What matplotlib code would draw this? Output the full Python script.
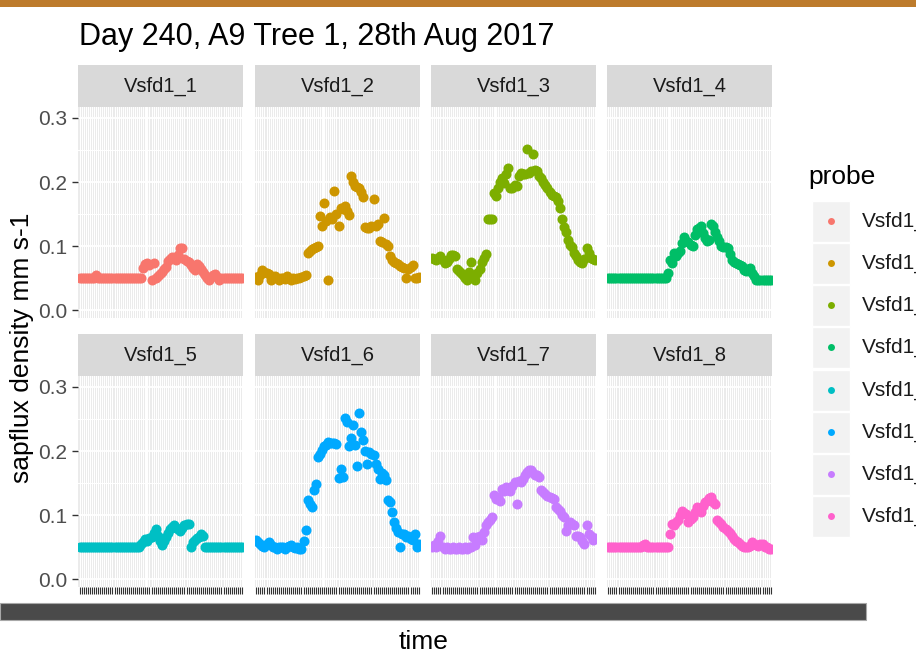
import matplotlib
matplotlib.use("Agg")
import matplotlib.pyplot as plt
from matplotlib.patches import Rectangle
from matplotlib.ticker import FixedLocator

plt.rcParams['font.family'] = ['Liberation Sans', 'DejaVu Sans']

title = "Day 240, A9 Tree 1, 28th Aug 2017"
probes = ["Vsfd1_1", "Vsfd1_2", "Vsfd1_3", "Vsfd1_4",
          "Vsfd1_5", "Vsfd1_6", "Vsfd1_7", "Vsfd1_8"]
colors = ["#F8766D", "#CD9600", "#7CAE00", "#00BE67",
          "#00BFC4", "#00A9FF", "#C77CFF", "#FF61CC"]
y_ticks = [0.0, 0.1, 0.2, 0.3]
y_tick_labels = ["0.0", "0.1", "0.2", "0.3"]

vsfd1_1 = [0.05]*8 + [0.055] + [0.05]*22 + [
    0.066, 0.072, 0.074, 0.070, 0.048, 0.074, 0.050, 0.053, 0.057, 0.060,
    0.064, 0.068, 0.077, 0.080, 0.083, 0.082, 0.078, 0.086, 0.097, 0.097,
    0.080, 0.077, 0.075, 0.070, 0.066, 0.063, 0.072, 0.069, 0.065, 0.060,
    0.055, 0.050, 0.048, 0.052, 0.055, 0.057, 0.052, 0.048] + [0.05]*11
vsfd1_2 = [
    0.052, 0.048, 0.055, 0.063, 0.060, 0.058, 0.056, 0.048, 0.052, 0.053,
    0.050, 0.048, 0.050, 0.051, 0.049, 0.053, 0.050, 0.048, 0.050, 0.049,
    0.050, 0.051, 0.052, 0.053, 0.055, 0.089, 0.093, 0.095, 0.097, 0.098,
    0.100, 0.147, 0.131, 0.167, 0.140, 0.048, 0.145, 0.142, 0.186, 0.150,
    0.131, 0.160, 0.158, 0.162, 0.155, 0.149, 0.209, 0.200, 0.194, 0.193,
    0.191, 0.185, 0.177, 0.130, 0.128, 0.129, 0.131, 0.173, 0.132, 0.135,
    0.108, 0.106, 0.144, 0.104, 0.100, 0.085, 0.079, 0.076, 0.074, 0.072,
    0.069, 0.068, 0.066, 0.050, 0.065, 0.068, 0.071, 0.050, 0.050, 0.052]
vsfd1_3 = [
    0.082, 0.080, 0.079, 0.081, 0.084, 0.078, 0.074, 0.076, 0.080, 0.087,
    0.086, 0.084, 0.065, 0.061, 0.058, 0.055, 0.050, 0.048, 0.060, 0.076,
    0.052, 0.048, 0.058, 0.065, 0.076, 0.082, 0.088, 0.142, 0.142, 0.143,
    0.183, 0.178, 0.191, 0.200, 0.206, 0.198, 0.212, 0.222, 0.190, 0.191,
    0.195, 0.194, 0.210, 0.214, 0.212, 0.212, 0.252, 0.214, 0.217, 0.243,
    0.218, 0.217, 0.210, 0.206, 0.200, 0.196, 0.191, 0.185, 0.180, 0.178,
    0.177, 0.170, 0.160, 0.142, 0.130, 0.122, 0.110, 0.102, 0.098, 0.090,
    0.084, 0.079, 0.076, 0.074, 0.080, 0.097, 0.090, 0.082, 0.080, 0.079]
vsfd1_4 = [0.05]*29 + [
    0.058, 0.079, 0.074, 0.089, 0.085, 0.089, 0.092, 0.105, 0.115, 0.108,
    0.106, 0.102, 0.100, 0.118, 0.126, 0.128, 0.131, 0.120, 0.113, 0.108,
    0.110, 0.134, 0.131, 0.122, 0.115, 0.108, 0.100, 0.099, 0.098, 0.097,
    0.088, 0.079, 0.076, 0.074, 0.072, 0.070, 0.069, 0.063, 0.062, 0.064,
    0.066, 0.058, 0.053, 0.048] + [0.048]*7
vsfd1_5 = [0.05]*30 + [
    0.055, 0.058, 0.063, 0.060, 0.064, 0.066, 0.072, 0.079, 0.068, 0.060,
    0.053, 0.060, 0.066, 0.072, 0.078, 0.081, 0.084, 0.080, 0.078, 0.076,
    0.080, 0.084, 0.086, 0.087, 0.050, 0.058, 0.062, 0.064, 0.066, 0.071,
    0.068, 0.050] + [0.05]*18
vsfd1_6 = [
    0.061, 0.058, 0.055, 0.052, 0.050, 0.055, 0.058, 0.054, 0.050, 0.050,
    0.048, 0.050, 0.051, 0.050, 0.048, 0.050, 0.052, 0.053, 0.050, 0.049,
    0.050, 0.048, 0.048, 0.060, 0.077, 0.123, 0.118, 0.112, 0.140, 0.149,
    0.190, 0.196, 0.201, 0.208, 0.210, 0.214, 0.213, 0.212, 0.212, 0.211,
    0.158, 0.172, 0.160, 0.252, 0.245, 0.208, 0.220, 0.240, 0.210, 0.176,
    0.260, 0.230, 0.217, 0.200, 0.180, 0.198, 0.196, 0.194, 0.180, 0.172,
    0.157, 0.165, 0.162, 0.155, 0.123, 0.120, 0.105, 0.089, 0.080, 0.074,
    0.050, 0.071, 0.070, 0.066, 0.068, 0.063, 0.061, 0.071, 0.050, 0.055]
vsfd1_7 = [
    0.050, 0.053, 0.050, 0.060, 0.067, 0.050, 0.048, 0.050, 0.048, 0.048,
    0.050, 0.048, 0.048, 0.050, 0.048, 0.048, 0.050, 0.048, 0.050, 0.050,
    0.066, 0.053, 0.066, 0.068, 0.061, 0.074, 0.084, 0.089, 0.093, 0.097,
    0.131, 0.125, 0.128, 0.122, 0.141, 0.138, 0.144, 0.140, 0.138, 0.145,
    0.151, 0.118, 0.154, 0.152, 0.157, 0.162, 0.168, 0.171, 0.170, 0.166,
    0.163, 0.162, 0.160, 0.139, 0.136, 0.133, 0.130, 0.128, 0.126, 0.125,
    0.112, 0.110, 0.107, 0.100, 0.097, 0.076, 0.085, 0.089, 0.086, 0.084,
    0.068, 0.067, 0.066, 0.060, 0.055, 0.084, 0.071, 0.068, 0.062, 0.064]
vsfd1_8 = [0.05]*17 + [0.053, 0.055] + [0.05]*10 + [
    0.050, 0.071, 0.087, 0.085, 0.089, 0.092, 0.100, 0.107, 0.104, 0.102,
    0.089, 0.094, 0.097, 0.105, 0.112, 0.108, 0.105, 0.115, 0.120, 0.122,
    0.126, 0.128, 0.120, 0.118, 0.092, 0.090, 0.087, 0.081, 0.079, 0.076,
    0.072, 0.068, 0.063, 0.060, 0.058, 0.055, 0.052, 0.050, 0.050, 0.050,
    0.052, 0.058, 0.055, 0.053, 0.052, 0.055, 0.055, 0.050, 0.050, 0.048,
    0.048]

series = [vsfd1_1, vsfd1_2, vsfd1_3, vsfd1_4,
          vsfd1_5, vsfd1_6, vsfd1_7, vsfd1_8]
n_time = len(vsfd1_1)
time_idx = list(range(n_time))

W, H = 916, 662
fig = plt.figure(figsize=(W/100, H/100), dpi=100)
fig.patch.set_facecolor("white")

def rect(l, t, w, h):
    return [l/W, 1-(t+h)/H, w/W, h/H]

col_left = [78.3, 255, 431, 607]
panel_w = 165
row_top = [107, 376]
panel_h = 211
strip_h = 42
alias_line = [33, 33, 31, 30]

for k, (name, vals, c) in enumerate(zip(probes, series, colors)):
    r, cidx = divmod(k, 4)
    l, t = col_left[cidx], row_top[r]
    ax = fig.add_axes(rect(l, t, panel_w, panel_h))
    ax.set_facecolor("#EBEBEB")
    ax.set_xlim(-0.6, n_time - 1 + 0.6)
    ax.set_ylim(-0.012, 0.317)
    ax.xaxis.set_major_locator(FixedLocator(time_idx))
    ax.yaxis.set_major_locator(FixedLocator(y_ticks))
    ax.yaxis.set_minor_locator(FixedLocator([0.05, 0.15, 0.25]))
    ax.xaxis.grid(True, which="major", color="white", lw=0.75)
    ax.yaxis.grid(True, which="major", color="white", lw=1.3)
    ax.yaxis.grid(True, which="minor", color="white", lw=0.7)
    ax.axvline(alias_line[cidx], color="white", lw=1.6, zorder=0.6)
    ax.set_axisbelow(True)
    for s in ax.spines.values():
        s.set_visible(False)
    ax.scatter(time_idx, vals, s=52, color=c, linewidths=0, zorder=3)
    ax.set_xticklabels([])
    ax.tick_params(axis="y", which="minor", length=0)
    if r == 1:
        ax.tick_params(axis="x", length=5, width=0.8, color="#333333")
    else:
        ax.tick_params(axis="x", length=0)
    if cidx == 0:
        ax.set_yticklabels(y_tick_labels)
        ax.tick_params(axis="y", length=4, width=1.0, color="#333333",
                       labelsize=15, labelcolor="#4D4D4D", pad=4)
    else:
        ax.set_yticklabels([])
        ax.tick_params(axis="y", length=0)
    sax = fig.add_axes(rect(l, t - strip_h, panel_w, strip_h))
    sax.set_facecolor("#D9D9D9")
    sax.set_xticks([]); sax.set_yticks([])
    for s in sax.spines.values():
        s.set_visible(False)
    sax.text(0.5, 0.5, name, ha="center", va="center", fontsize=14.5,
             color="#1A1A1A", transform=sax.transAxes)

# title and axis titles
fig.text(79/W, 1-37/H, title, ha="left", va="center", fontsize=22, color="black")
fig.text(22/W, 1-348/H, "sapflux density mm s-1", rotation=90,
         ha="center", va="center", fontsize=19)
fig.text(424/W, 1-642/H, "time", ha="center", va="center", fontsize=19)

# decorations: orange top band and dark scroll-like band of overlapped labels
fig.patches.append(Rectangle((0, 1-7/H), 1, 7/H, transform=fig.transFigure,
                             facecolor="#BD7B2C", edgecolor="none"))
fig.patches.append(Rectangle((0, 1-620/H), 866/W, 17/H, transform=fig.transFigure,
                             facecolor="#4A4A4A", edgecolor="#A8A8A8", lw=0.8))

# legend
lax = fig.add_axes([805/W, 0, (W-805)/W, 1])
lax.set_xlim(805, W)
lax.set_ylim(H, 0)
lax.axis("off")
lax.text(808, 177, "probe", ha="left", va="center", fontsize=19)
key_y = [221, 263, 305, 347, 390, 432, 474, 516]
for name, c, yk in zip(probes, colors, key_y):
    lax.add_patch(Rectangle((812, yk-20.5), 38, 41, facecolor="#F2F2F2",
                            edgecolor="white", lw=1.0))
    lax.plot([831], [yk], "o", color=c, markersize=5, markeredgewidth=0)
    lax.text(862, yk, name, ha="left", va="center", fontsize=15, color="#1A1A1A")

fig.savefig("out.png", dpi=100)
